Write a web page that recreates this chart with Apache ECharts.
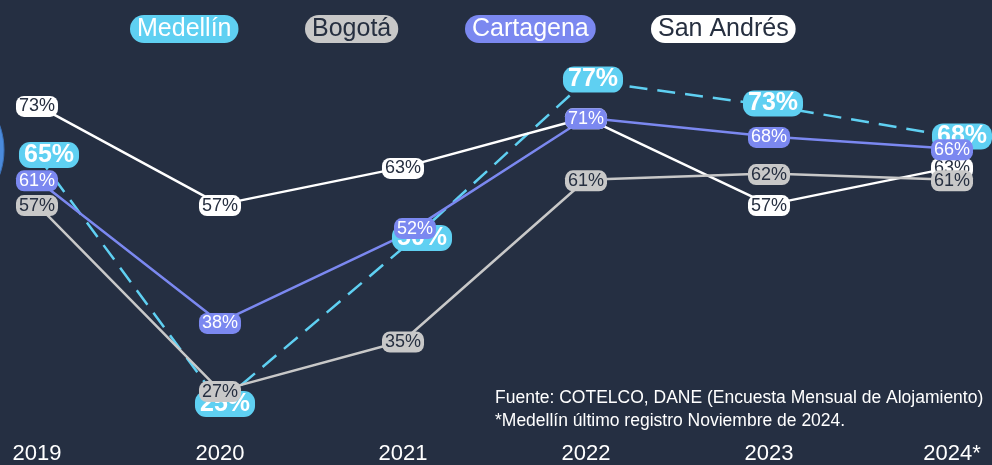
<!DOCTYPE html>
<html>
<head>
<meta charset="utf-8">
<script src="https://cdn.jsdelivr.net/npm/echarts@6/dist/echarts.min.js"></script>
<style>
  html, body { margin: 0; padding: 0; background: #252f42; }
  #chart { width: 992px; height: 465px; }
</style>
</head>
<body>
<div id="chart"></div>
<script>
// datos de ocupación hotelera (%)
var years = ['2019', '2020', '2021', '2022', '2023', '2024*'];
var medellin = [65, 25, 50, 77, 73, 68];
var bogota = [57, 27, 35, 61, 62, 61];
var cartagena = [61, 38, 52, 71, 68, 66];
var sanAndres = [73, 57, 63, 71, 57, 63];

var FONT = '"Liberation Sans", Arial, sans-serif';
var BG = '#252f42';
var DARK = '#262f40';
var C_MED = '#5fd0f2';
var C_BOG = '#c8c8c8';
var C_CAR = '#7b88f0';
var C_SAN = '#ffffff';

// desplazamiento de etiquetas (evitar solapes), en px
var medOffsets = [[12, 0], [5, 1], [19, -10], [7, -1], [4, -2], [10, 0]];
var carOffsets = [[0, 1], [0, 1], [12, -7], [0, 1], [0, 1], [0, 1]];

function pctLabel(bg, color, big) {
    return {
        show: true,
        position: 'inside',
        offset: [0, 1],
        formatter: '{c}%',
        fontFamily: FONT,
        fontSize: big ? 25 : 18,
        fontWeight: big ? 'bold' : 'normal',
        color: color,
        backgroundColor: bg,
        borderRadius: big ? 11 : 8,
        padding: big ? [1, 5, 0, 5] : [2, 3, 1, 3]
    };
}

function withOffsets(data, offsets) {
    return data.map(function (v, i) {
        return { value: v, label: { offset: offsets[i] } };
    });
}

function lineSeries(name, data, color, textColor, dashed, big) {
    return {
        name: name,
        type: 'line',
        data: data,
        symbol: 'circle',
        symbolSize: 0,
        showSymbol: true,
        color: color,
        lineStyle: {
            color: color,
            width: 2.5,
            type: dashed ? [18, 10] : 'solid'
        },
        label: pctLabel(color, textColor, big),
        emphasis: { disabled: true },
        animation: false
    };
}

function legendItem(name, left, bg, color) {
    return {
        data: [name],
        left: left,
        top: 10,
        icon: 'none',
        itemWidth: 0,
        selectedMode: false,
        textStyle: {
            fontFamily: FONT,
            fontSize: 25,
            color: color,
            backgroundColor: bg,
            borderRadius: 15,
            padding: [2, 7, 1, 7]
        }
    };
}

var myChart = echarts.init(document.getElementById('chart'));
myChart.setOption({
    backgroundColor: BG,
    legend: [
        legendItem('Medellín', 120, C_MED, '#ffffff'),
        legendItem('Bogotá', 295, C_BOG, DARK),
        legendItem('Cartagena', 455, C_CAR, '#ffffff'),
        legendItem('San Andrés', 641, C_SAN, DARK)
    ],
    grid: {
        left: 37,
        right: 40,
        top: 62,
        bottom: 24,
        containLabel: false
    },
    xAxis: {
        type: 'category',
        data: years,
        boundaryGap: false,
        axisLine: { show: false },
        axisTick: { show: false },
        axisLabel: {
            color: '#ffffff',
            fontFamily: FONT,
            fontSize: 22,
            margin: 9
        }
    },
    yAxis: {
        type: 'value',
        min: 20,
        max: 80,
        show: false,
        splitLine: { show: false }
    },
    graphic: [
        {
            type: 'ellipse',
            shape: { cx: -38, cy: 150, rx: 42, ry: 56 },
            style: { fill: '#4b8bdc', stroke: '#3a6fb5', lineWidth: 1 }
        },
        {
            type: 'text',
            left: 495,
            top: 389,
            style: {
                text: 'Fuente: COTELCO, DANE (Encuesta Mensual de Alojamiento)',
                fill: '#ffffff',
                font: '17.5px ' + FONT
            }
        },
        {
            type: 'text',
            left: 495,
            top: 412,
            style: {
                text: '*Medellín último registro Noviembre de 2024.',
                fill: '#ffffff',
                font: '17.5px ' + FONT
            }
        }
    ],
    series: [
        lineSeries('Medellín', withOffsets(medellin, medOffsets), C_MED, '#ffffff', true, true),
        lineSeries('San Andrés', sanAndres, C_SAN, DARK, false, false),
        lineSeries('Bogotá', bogota, C_BOG, DARK, false, false),
        lineSeries('Cartagena', withOffsets(cartagena, carOffsets), C_CAR, '#ffffff', false, false)
    ]
});
</script>
</body>
</html>
